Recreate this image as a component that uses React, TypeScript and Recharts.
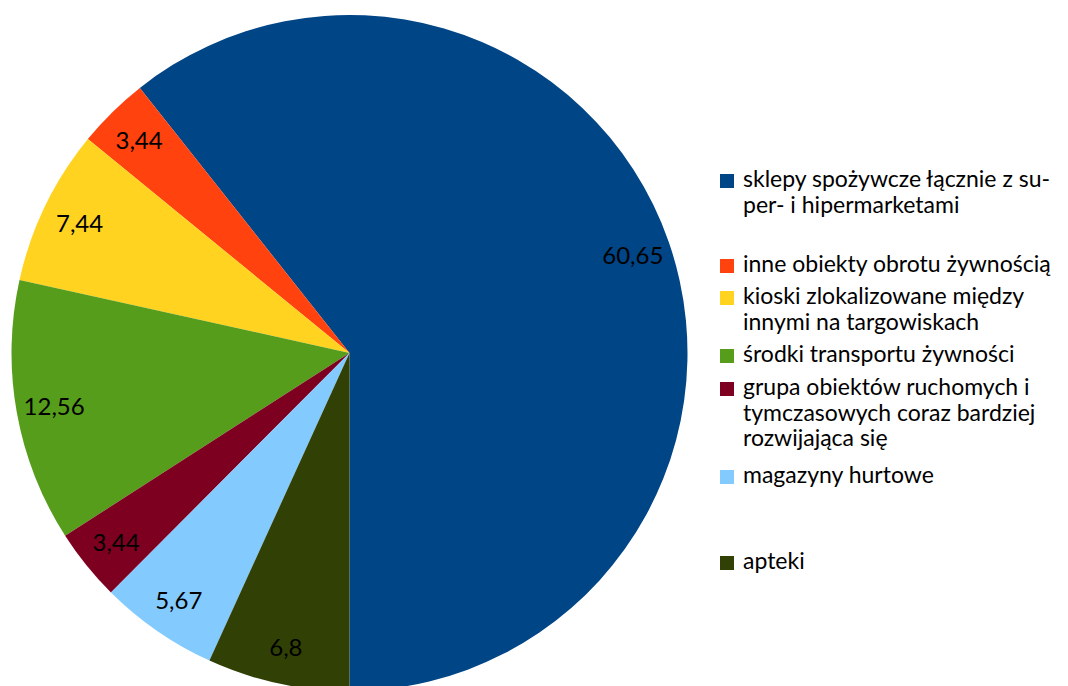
import { PieChart, Pie, Cell, Legend } from 'recharts';

const categories = [
  'sklepy spożywcze łącznie z su-\nper- i hipermarketami',
  'inne obiekty obrotu żywnością',
  'kioski zlokalizowane między\ninnymi na targowiskach',
  'środki transportu żywności',
  'grupa obiektów ruchomych i\ntymczasowych coraz bardziej\nrozwijająca się',
  'magazyny hurtowe',
  'apteki',
];
const values = [60.65, 3.44, 7.44, 12.56, 3.44, 5.67, 6.8];
const valueLabels = ['60,65', '3,44', '7,44', '12,56', '3,44', '5,67', '6,8'];
const colors = ['#004586', '#ff420e', '#ffd320', '#579d1c', '#7e0021', '#83caff', '#314004'];

const data = categories.map((name, i) => ({ name, value: values[i], label: valueLabels[i] }));

// vertical position of each legend entry (LibreOffice leaves uneven gaps)
const legendTops = [166, 251, 283, 341, 374, 462, 548];

const FONT = 'Lato, "Open Sans", sans-serif';
const RADIAN = Math.PI / 180;

const renderLabel = (props: any) => {
  const { cx, cy, midAngle, outerRadius, index } = props;
  const r = outerRadius - 38;
  const x = cx + r * Math.cos(-midAngle * RADIAN);
  const y = cy + r * Math.sin(-midAngle * RADIAN);
  return (
    <text x={x} y={y} textAnchor="middle" dominantBaseline="central" fill="#000" fontSize={24} fontFamily={FONT}>
      {valueLabels[index]}
    </text>
  );
};

const renderLegend = () => (
  <div style={{ position: 'relative', width: 350, height: 686 }}>
    {categories.map((c, i) => (
      <div key={i} style={{ position: 'absolute', left: 0, top: legendTops[i], display: 'flex', alignItems: 'flex-start' }}>
        <span style={{ width: 14, height: 14, background: colors[i], marginTop: 8, marginRight: 9, flex: 'none' }} />
        <span style={{ fontFamily: FONT, fontSize: 23, lineHeight: '25.5px', color: '#000', whiteSpace: 'pre' }}>{c}</span>
      </div>
    ))}
  </div>
);

export default function App() {
  return (
    <div style={{ position: 'absolute', left: 0, top: 0, width: 1068, height: 686, background: '#fff', overflow: 'hidden' }}>
      <PieChart width={1068} height={686} margin={{ top: 0, right: 0, bottom: 0, left: 0 }}>
        <Pie
          data={data}
          dataKey="value"
          nameKey="name"
          cx={349.5}
          cy={353}
          outerRadius={338}
          startAngle={-90}
          endAngle={270}
          stroke="none"
          label={renderLabel}
          labelLine={false}
          isAnimationActive={false}
        >
          {data.map((d, i) => (
            <Cell key={d.name} fill={colors[i]} />
          ))}
        </Pie>
        <Legend
          layout="vertical"
          align="right"
          verticalAlign="top"
          content={renderLegend}
          wrapperStyle={{ left: 720, top: 0, width: 350 }}
        />
      </PieChart>
    </div>
  );
}
